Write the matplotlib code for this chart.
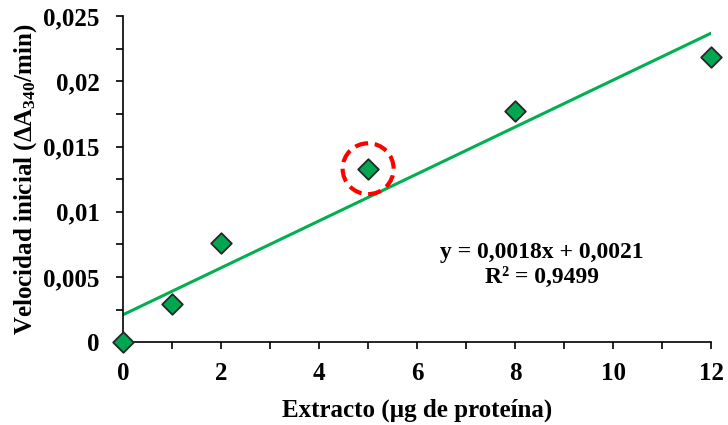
import numpy as np
import matplotlib.pyplot as plt
from matplotlib.patches import Ellipse
from matplotlib.ticker import MultipleLocator, FuncFormatter

plt.rcParams['font.family'] = ['Liberation Serif', 'DejaVu Serif']
plt.rcParams['font.weight'] = 'bold'
plt.rcParams['mathtext.fontset'] = 'custom'
plt.rcParams['mathtext.rm'] = 'Liberation Serif:bold'
plt.rcParams['mathtext.it'] = 'Liberation Serif:bold'
plt.rcParams['mathtext.bf'] = 'Liberation Serif:bold'

#-----------------------------------------------------------------------------
# data
extracto = [0, 1, 2, 5, 8, 12]
velocidad = [0.0, 0.0029, 0.0076, 0.0133, 0.0177, 0.0219]
slope = 0.0018
intercept = 0.0021
r2 = 0.9499
outlier_x = 5
outlier_y = 0.0133
#-----------------------------------------------------------------------------

fig = plt.figure(figsize=(7.28, 4.25), dpi=100)
ax = fig.add_axes([0.169, 0.195, 0.808, 0.767])

xfit = np.array([0, 12])
ax.plot(xfit, slope*xfit + intercept, color='#00B050', lw=2.2, zorder=2)
ax.scatter(extracto, velocidad, marker='D', s=110, facecolor='#00A650',
           edgecolor='#262626', linewidth=1.3, zorder=3, clip_on=False)

circ = Ellipse((outlier_x, outlier_y), width=1.04, height=0.0039, fill=False,
               edgecolor='#FF0000', lw=3, linestyle=(0, (3.2, 1.6)), zorder=4)
ax.add_patch(circ)

ax.text(8.55, 0.0069, f'y = {slope:.4f}x + {intercept:.4f}'.replace('.', ','),
        ha='center', va='center', fontsize=17, fontweight='bold')
ax.text(8.55, 0.0050, f'R² = {r2:.4f}'.replace('.', ','),
        ha='center', va='center', fontsize=17, fontweight='bold')

ax.set_xlim(0, 12)
ax.set_ylim(0, 0.025)
ax.xaxis.set_major_locator(MultipleLocator(2))
ax.xaxis.set_minor_locator(MultipleLocator(1))
ax.yaxis.set_major_locator(MultipleLocator(0.005))
ax.yaxis.set_minor_locator(MultipleLocator(0.0025))

def fmt(v, pos):
    s = f'{v:.3f}'.rstrip('0').rstrip('.')
    return s.replace('.', ',')

ax.yaxis.set_major_formatter(FuncFormatter(fmt))
ax.tick_params('both', which='major', length=5, width=1.2, direction='out', labelsize=18)
ax.tick_params('both', which='minor', length=5, width=1.2, direction='out')
ax.tick_params('x', which='major', pad=9)
ax.tick_params('y', which='major', pad=12)
for lab in ax.get_xticklabels() + ax.get_yticklabels():
    lab.set_fontweight('bold')

ax.spines['top'].set_visible(False)
ax.spines['right'].set_visible(False)
ax.spines['left'].set_linewidth(1.2)
ax.spines['bottom'].set_linewidth(1.2)

ax.set_xlabel('Extracto (µg de proteína)', fontsize=18, fontweight='bold', labelpad=10)
ax.set_ylabel('Velocidad inicial (ΔA$_{340}$/min)', fontsize=18, fontweight='bold', labelpad=3)

plt.savefig('out.png', dpi=100)
